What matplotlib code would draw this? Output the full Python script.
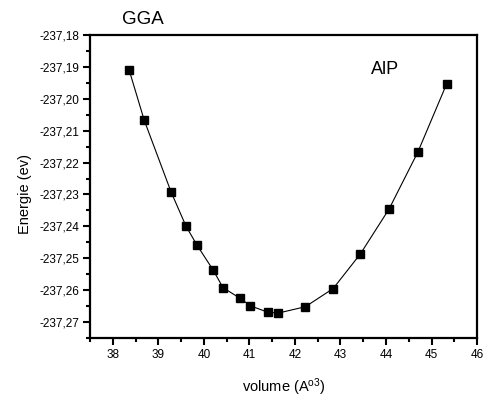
import numpy as np
import matplotlib.pyplot as plt
from matplotlib.ticker import MultipleLocator, FuncFormatter

plt.rcParams['font.family'] = ['Liberation Sans', 'DejaVu Sans']
plt.rcParams['mathtext.default'] = 'regular'

# volume (A^3) and total energy (eV)
volume = [38.36, 38.69, 39.28, 39.61, 39.85, 40.20, 40.42, 40.80, 41.02,
          41.40, 41.63, 42.23, 42.84, 43.44, 44.07, 44.70, 45.33]
energy = [-237.1910, -237.2067, -237.2292, -237.2400, -237.2459, -237.2536,
          -237.2592, -237.2626, -237.2649, -237.2669, -237.2672, -237.2652,
          -237.2595, -237.2486, -237.2345, -237.2167, -237.1954]

fig = plt.figure(figsize=(4.85, 3.98), dpi=100)
ax = fig.add_axes([0.1856, 0.1508, 0.798, 0.7612])

ax.plot(volume, energy, color='black', lw=0.8, marker='s', markersize=6)

ax.set_xlim(37.5, 46)
ax.set_ylim(-237.275, -237.18)
ax.xaxis.set_major_locator(MultipleLocator(1))
ax.xaxis.set_minor_locator(MultipleLocator(0.5))
ax.yaxis.set_major_locator(MultipleLocator(0.01))
ax.yaxis.set_minor_locator(MultipleLocator(0.005))
ax.yaxis.set_major_formatter(FuncFormatter(lambda v, p: ('%.2f' % v).replace('.', ',')))

ax.tick_params(which='major', direction='out', length=5, width=1.5, labelsize=8.5, pad=3)
ax.tick_params(which='minor', direction='out', length=3, width=1.5)
for s in ax.spines.values():
    s.set_linewidth(1.6)

ax.set_xlabel('volume (A$^{o3}$)', fontsize=10.5, labelpad=11)
ax.set_ylabel('Energie (ev)', fontsize=10.5)
ax.yaxis.set_label_coords(-0.15, 0.475)

fig.text(143 / 485, 1 - 19 / 398, 'GGA', fontsize=13.5, ha='center', va='center')
fig.text(385 / 485, 1 - 70 / 398, 'AlP', fontsize=13, ha='center', va='center')

fig.savefig('out.png', dpi=100)
